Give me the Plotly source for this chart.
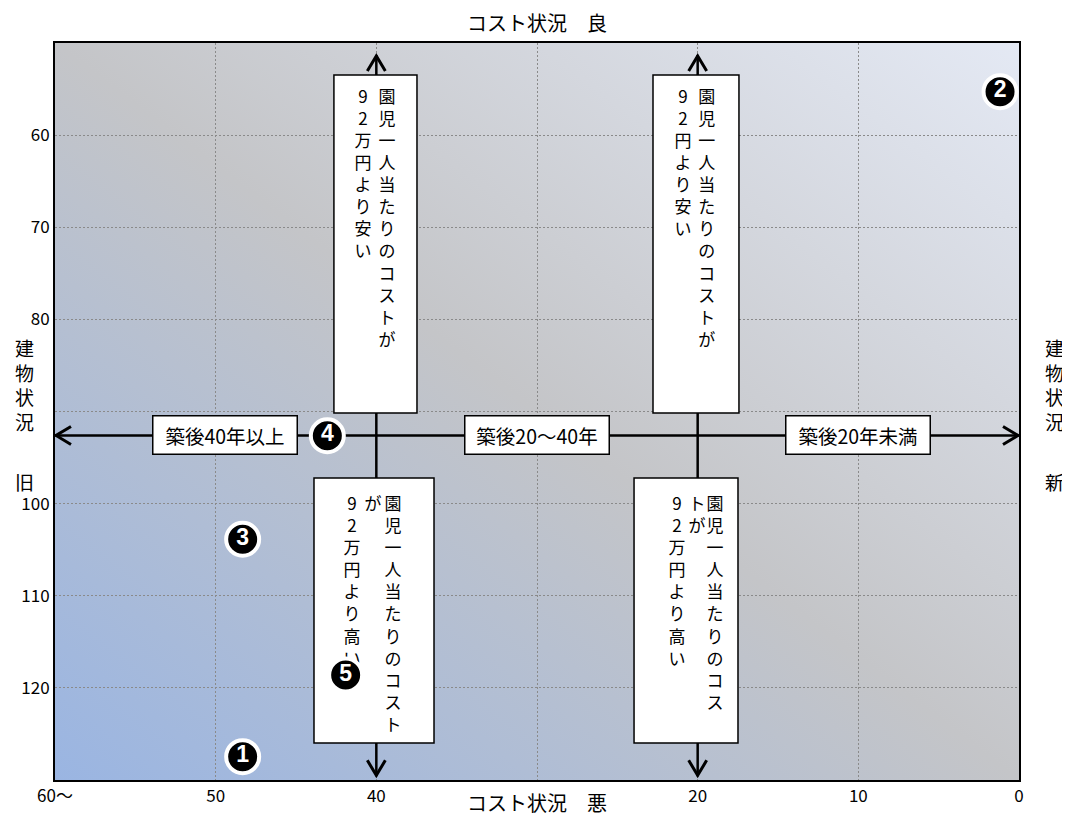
import base64
import plotly.graph_objects as go

# axis ticks (cost on x, building condition on y)
x_ticks = [60, 50, 40, 30, 20, 10, 0]
x_ticktext = ['60～', '50', '40', '', '20', '10', '0']
y_ticks = [60, 70, 80, 90, 100, 110, 120]
y_ticktext = ['60', '70', '80', '', '100', '110', '120']

# dividing lines of the matrix
cost_lines = [40, 20]
age_line = 92.6

# age band labels on the horizontal arrow
age_labels = ['築後40年以上', '築後20～40年', '築後20年未満']
age_label_x = [49.4, 30, 10]

# vertical notes in the four boxes, one column each
note_text = ['園児一人当たりのコストが', '92万円より安い',
             '園児一人当たりのコストが', '92円より安い',
             '園児一人当たりのコスト', 'が', '92万円より高い',
             '園児一人当たりのコス', 'トが', '92万円より高い']
note_x = [39.33, 40.83, 19.43, 20.92, 38.96, 40.21, 41.51, 18.92, 20.04, 21.29]
note_top = [55.1, 55.1, 55.1, 55.1, 99.3, 99.3, 99.3, 99.3, 99.3, 99.3]

# numbered markers
num_labels = ['1', '2', '3', '4', '5']
num_x = [48.32, 1.18, 48.32, 43.05, 41.91]
num_y = [127.47, 55.28, 103.87, 92.63, 118.6]

FONT = 'Noto Sans CJK JP'

fig = go.Figure()

fig.add_trace(go.Scatter(
    x=note_x, y=note_top, mode='text',
    text=['<br>'.join(s) for s in note_text],
    textposition='bottom center',
    textfont=dict(family=FONT, size=17, color='black'),
    hoverinfo='skip', cliponaxis=False, showlegend=False))

fig.add_trace(go.Scatter(
    x=num_x, y=num_y, mode='markers+text', text=num_labels,
    textposition='middle center',
    marker=dict(size=33, color='black', line=dict(color='white', width=4)),
    textfont=dict(family='Liberation Sans', size=23, color='white', weight='bold'),
    hoverinfo='skip', cliponaxis=False, showlegend=False))

shapes = []
# arrow shafts
for cx in cost_lines:
    shapes.append(dict(type='line', x0=cx, x1=cx, y0=51.3, y1=129.6, layer='between',
                       line=dict(color='black', width=2.5)))
shapes.append(dict(type='line', x0=60, x1=0, y0=age_line, y1=age_line, layer='between',
                   line=dict(color='black', width=2.5)))
# white note boxes
for bx0, bx1, by0, by1 in [(42.64, 37.47, 53.47, 90.16), (22.78, 17.43, 53.47, 90.16),
                           (43.88, 36.41, 97.22, 125.98), (23.96, 17.49, 97.22, 125.98)]:
    shapes.append(dict(type='rect', x0=bx0, x1=bx1, y0=by0, y1=by1, layer='between',
                       fillcolor='white', line=dict(color='black', width=1.5)))

# open chevron arrow heads, drawn in pixels around each arrow tip
chevrons = {'up': 'M-9,-16 L0,-1 L9,-16', 'down': 'M-9,16 L0,1 L9,16',
            'left': 'M16,9 L1,0 L16,-9', 'right': 'M-16,9 L-1,0 L-16,-9'}
heads = [(40, 51.3, 'up'), (40, 129.6, 'down'), (20, 51.3, 'up'), (20, 129.6, 'down'),
         (60, age_line, 'left'), (0, age_line, 'right')]
for hx, hy, d in heads:
    shapes.append(dict(type='path', xsizemode='pixel', ysizemode='pixel',
                       xanchor=hx, yanchor=hy, path=chevrons[d], layer='above',
                       line=dict(color='black', width=3)))

annotations = []
for lab, lx in zip(age_labels, age_label_x):
    annotations.append(dict(x=lx, y=age_line, text=lab, showarrow=False,
                            font=dict(family=FONT, size=19.5, color='black'),
                            bgcolor='white', bordercolor='black', borderwidth=1.5,
                            borderpad=0, width=143, height=37))

# axis titles
title_font = dict(family=FONT, size=20, color='black')
side_font = dict(family=FONT, size=19, color='black')
annotations += [
    dict(x=30, y=1, xref='x', yref='paper', yanchor='middle', yshift=21, showarrow=False,
         text='コスト状況　良', font=title_font),
    dict(x=30, y=0, xref='x', yref='paper', yanchor='middle', yshift=-22, showarrow=False,
         text='コスト状況　悪', font=title_font),
    dict(x=0, y=87.12, xref='paper', yref='y', xanchor='center', xshift=-31, showarrow=False,
         text='建<br>物<br>状<br>況', font=side_font),
    dict(x=0, y=97.65, xref='paper', yref='y', xanchor='center', xshift=-31, showarrow=False,
         text='旧', font=side_font),
    dict(x=1, y=87.12, xref='paper', yref='y', xanchor='center', xshift=35, showarrow=False,
         text='建<br>物<br>状<br>況', font=side_font),
    dict(x=1, y=97.65, xref='paper', yref='y', xanchor='center', xshift=35, showarrow=False,
         text='新', font=side_font),
]

bg_svg = ('<svg xmlns="http://www.w3.org/2000/svg" width="100" height="100" '
          'viewBox="0 0 100 100" preserveAspectRatio="none">'
          '<defs><linearGradient id="g" x1="0" y1="1" x2="1" y2="0">'
          '<stop offset="0" stop-color="#9ab5e2"/>'
          '<stop offset="0.5" stop-color="#c4c5c8"/>'
          '<stop offset="1" stop-color="#e4e9f4"/>'
          '</linearGradient></defs>'
          '<rect width="100" height="100" fill="url(#g)"/></svg>')
bg_src = 'data:image/svg+xml;base64,' + base64.b64encode(bg_svg.encode()).decode()

# page body has an 8px margin, so the figure is a bit smaller than the window
fig.update_layout(
    width=1062, height=811,
    margin=dict(l=47, r=51, t=35, b=39),
    paper_bgcolor='white', plot_bgcolor='white',
    font=dict(family=FONT, size=16, color='black'),
    shapes=shapes, annotations=annotations,
    images=[dict(source=bg_src, xref='paper', yref='paper', x=0, y=1, sizex=1, sizey=1,
                 xanchor='left', yanchor='top', sizing='stretch', layer='below')],
    showlegend=False)

fig.update_xaxes(range=[60, 0], tickvals=x_ticks, ticktext=x_ticktext,
                 showgrid=True, gridcolor='#8a8a8a', griddash='2px,2px', gridwidth=1,
                 showline=True, mirror=True, linecolor='black', linewidth=2,
                 zeroline=False, ticks='', tickfont=dict(size=17))
fig.update_yaxes(range=[130, 50], tickvals=y_ticks, ticktext=y_ticktext,
                 showgrid=True, gridcolor='#8a8a8a', griddash='2px,2px', gridwidth=1,
                 showline=True, mirror=True, linecolor='black', linewidth=2,
                 zeroline=False, ticks='', tickfont=dict(size=17))

fig.write_html('out.html')
